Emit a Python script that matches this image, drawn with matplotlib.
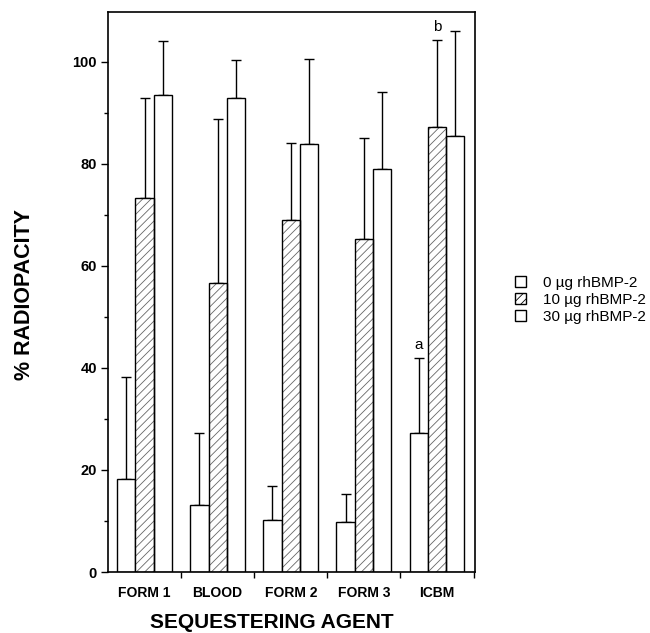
import matplotlib
matplotlib.use("Agg")
import matplotlib.pyplot as plt
import numpy as np
from matplotlib.patches import Patch

plt.rcParams['font.family'] = ['Liberation Sans', 'DejaVu Sans']
plt.rcParams['hatch.linewidth'] = 0.6

categories = ["FORM 1", "BLOOD", "FORM 2", "FORM 3", "ICBM"]
series_names = ["0 \u00b5g rhBMP-2", "10 \u00b5g rhBMP-2", "30 \u00b5g rhBMP-2"]
means_0 = [18.2, 13.1, 10.1, 9.8, 27.2]
err_top_0 = [38.2, 27.3, 16.9, 15.2, 42.0]
means_10 = [73.4, 56.6, 69.0, 65.2, 87.3]
err_top_10 = [92.9, 88.9, 84.2, 85.1, 104.3]
means_30 = [93.5, 93.0, 84.0, 79.0, 85.4]
err_top_30 = [104.2, 100.3, 100.5, 94.2, 106.0]
annotations = [("a", 4, 0), ("b", 4, 1)]
yticks = [0, 20, 40, 60, 80, 100]

means = [means_0, means_10, means_30]
tops = [err_top_0, err_top_10, err_top_30]
hatches = [None, '////', None]
hatch_color = '#666666'

fig = plt.figure(figsize=(6.5, 6.33), dpi=100)
ax = fig.add_axes([108/650, 61/633, 367/650, 560/633])

x = np.arange(len(categories))
w = 0.25
offsets = [-w, 0, w]
for i in range(3):
    pos = x + offsets[i]
    if hatches[i]:
        ax.bar(pos, means[i], width=w, facecolor='white', edgecolor=hatch_color,
               linewidth=0, hatch=hatches[i], zorder=2)
        ax.bar(pos, means[i], width=w, facecolor='none', edgecolor='black',
               linewidth=1.0, zorder=2.1)
    else:
        ax.bar(pos, means[i], width=w, facecolor='white', edgecolor='black',
               linewidth=1.0, zorder=2)
    err = np.array(tops[i]) - np.array(means[i])
    ax.errorbar(pos, means[i], yerr=[np.zeros_like(err), err], fmt='none',
                ecolor='black', elinewidth=1.0, capsize=3.5, capthick=1.0, zorder=1)

for letter, gi, si in annotations:
    ax.text(x[gi] + offsets[si], tops[si][gi] + 1.2, letter, ha='center', va='bottom',
            fontsize=11)

ax.set_xlim(-0.5, 4.52)
ax.set_ylim(0, 109.8)
ax.set_yticks(yticks)
ax.set_yticklabels([str(t) for t in yticks], fontsize=10.5, fontweight='bold')
ax.set_yticks(np.arange(10, 110, 20), minor=True)
ax.tick_params(axis='y', which='major', direction='out', length=5, width=1.0, pad=3)
ax.tick_params(axis='y', which='minor', direction='out', length=3, width=1.0)

ax.set_xticks(x)
ax.set_xticklabels(categories, fontsize=10, fontweight='bold')
ax.tick_params(axis='x', which='major', length=0, pad=10)
ax.set_xticks(np.arange(-0.5, 4.6, 1.0)[1:], minor=True)
ax.tick_params(axis='x', which='minor', direction='out', length=4, width=1.0)

for sp in ax.spines.values():
    sp.set_linewidth(1.2)

fig.text(24/650, 1 - 295/633, "% RADIOPACITY", rotation=90, ha='center', va='center',
         fontsize=15.5, fontweight='bold')
fig.text(272/650, 1 - 622/633, "SEQUESTERING AGENT", ha='center', va='center',
         fontsize=15, fontweight='bold')

handles = [Patch(facecolor='white', edgecolor='black', hatch=hatches[i], linewidth=1.0)
           for i in range(3)]
fig.legend(handles, series_names, loc='upper left', bbox_to_anchor=(515/650, 1 - 276/633),
           frameon=False, fontsize=11, handlelength=0.75, handleheight=0.75,
           handletextpad=1.1, labelspacing=0.2, borderpad=0, borderaxespad=0)

fig.savefig("out.png", dpi=100)
